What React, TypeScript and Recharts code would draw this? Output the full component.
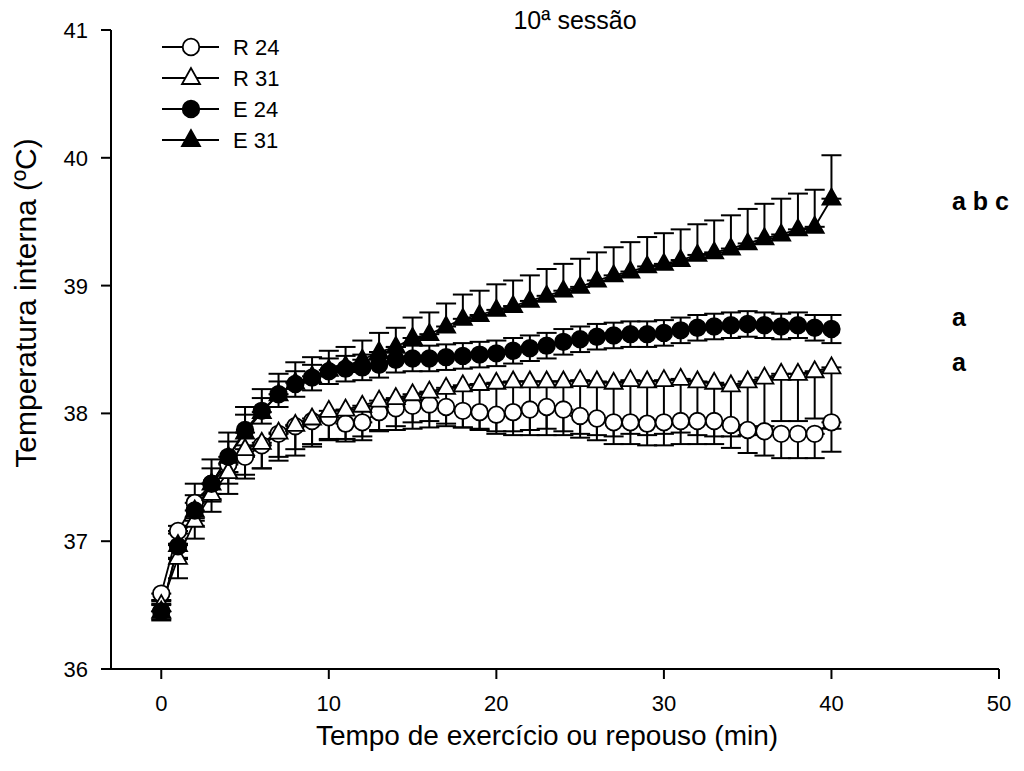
import React from "react";
import { LineChart, Line, XAxis, YAxis, ErrorBar } from "recharts";

const FONT = '"Liberation Sans", Arial, sans-serif';

// tempo (min)
const minutes = [
  0, 1, 2, 3, 4, 5, 6, 7, 8, 9, 10, 11, 12, 13, 14, 15, 16, 17, 18, 19, 20,
  21, 22, 23, 24, 25, 26, 27, 28, 29, 30, 31, 32, 33, 34, 35, 36, 37, 38, 39, 40,
];

const r24 = [
  36.59, 37.08, 37.3, 37.45, 37.6, 37.66, 37.75, 37.84, 37.9, 37.94, 37.97,
  37.92, 37.93, 38.01, 38.04, 38.06, 38.07, 38.05, 38.02, 38.01, 37.99,
  38.01, 38.03, 38.05, 38.03, 37.98, 37.96, 37.93, 37.93, 37.92, 37.93,
  37.94, 37.94, 37.94, 37.91, 37.87, 37.86, 37.84, 37.84, 37.84, 37.93,
];
const r24Err = [
  0.05, 0.1, 0.12, 0.14, 0.15, 0.17, 0.18, 0.18, 0.18, 0.18, 0.18, 0.14, 0.14,
  0.14, 0.14, 0.13, 0.13, 0.13, 0.13, 0.14, 0.15, 0.15, 0.16, 0.17, 0.17, 0.17,
  0.17, 0.17, 0.17, 0.17, 0.18, 0.18, 0.18, 0.18, 0.18, 0.18, 0.19, 0.19, 0.19,
  0.19, 0.23,
];

const r31 = [
  36.5, 36.87, 37.16, 37.37, 37.54, 37.72, 37.77, 37.85, 37.91, 37.96, 38.02,
  38.03, 38.06, 38.1, 38.12, 38.15, 38.17, 38.2, 38.22, 38.23, 38.24, 38.25,
  38.25, 38.25, 38.25, 38.26, 38.25, 38.24, 38.26, 38.25, 38.26, 38.27, 38.25,
  38.24, 38.22, 38.25, 38.28, 38.31, 38.31, 38.33, 38.36,
];
const r31Err = [
  0.12, 0.16, 0.14, 0.14, 0.17, 0.2, 0.2, 0.22, 0.24, 0.22, 0.22, 0.23, 0.24,
  0.24, 0.25, 0.27, 0.28, 0.3, 0.33, 0.35, 0.38, 0.42, 0.42, 0.42, 0.42, 0.42,
  0.42, 0.42, 0.42, 0.42, 0.42, 0.42, 0.42, 0.42, 0.4, 0.42, 0.38, 0.37, 0.37,
  0.37, 0.48,
];

const e24 = [
  36.45, 36.96, 37.24, 37.45, 37.66, 37.87, 38.02, 38.15, 38.23, 38.28, 38.33,
  38.35, 38.36, 38.38, 38.42, 38.43, 38.43, 38.44, 38.45, 38.46, 38.47, 38.49,
  38.51, 38.53, 38.56, 38.58, 38.6, 38.61, 38.62, 38.62, 38.63, 38.65, 38.67,
  38.68, 38.69, 38.7, 38.69, 38.68, 38.69, 38.67, 38.66,
];
const e24Err = [
  0.06, 0.1, 0.12, 0.12, 0.12, 0.12, 0.1, 0.1, 0.1, 0.1, 0.1, 0.1, 0.1, 0.1,
  0.1, 0.1, 0.1, 0.1, 0.1, 0.1, 0.1, 0.1, 0.1, 0.1, 0.1, 0.1, 0.1, 0.1, 0.1,
  0.1, 0.1, 0.1, 0.1, 0.1, 0.1, 0.1, 0.1, 0.1, 0.1, 0.1, 0.11,
];

const e31 = [
  36.45, 36.97, 37.24, 37.45, 37.66, 37.85, 38.01, 38.15, 38.24, 38.29, 38.34,
  38.37, 38.42, 38.48, 38.52, 38.59, 38.62, 38.68, 38.74, 38.77, 38.81, 38.84,
  38.88, 38.92, 38.96, 38.99, 39.04, 39.08, 39.11, 39.15, 39.17, 39.2, 39.24,
  39.26, 39.29, 39.33, 39.37, 39.4, 39.44, 39.46, 39.68,
];
const e31Err = [
  0.08, 0.15, 0.21, 0.19, 0.19, 0.2, 0.18, 0.16, 0.16, 0.15, 0.15, 0.15, 0.15,
  0.15, 0.15, 0.16, 0.17, 0.18, 0.19, 0.19, 0.2, 0.2, 0.2, 0.21, 0.21, 0.22,
  0.22, 0.22, 0.23, 0.23, 0.24, 0.24, 0.24, 0.25, 0.26, 0.27, 0.27, 0.28, 0.28,
  0.29, 0.34,
];

const xTicks = [0, 10, 20, 30, 40, 50];
const yTicks = [36, 37, 38, 39, 40, 41];

// [abaixo, acima]
const data = minutes.map((t, i) => ({
  t,
  r24: r24[i],
  r24Err: [r24Err[i], 0],
  r31: r31[i],
  r31Err: [r31Err[i], 0],
  e24: e24[i],
  e24Err: [e24Err[i], e24Err[i]],
  e31: e31[i],
  e31Err: [0, e31Err[i]],
}));

type Shape = "circle" | "triangle";

function Marker({ cx, cy, shape, filled }: { cx: number; cy: number; shape: Shape; filled: boolean }) {
  const fill = filled ? "#000" : "#fff";
  if (shape === "circle") {
    return <circle cx={cx} cy={cy} r={8.3} fill={fill} stroke="#000" strokeWidth={1.8} />;
  }
  const pts = `${cx},${cy - 10} ${cx - 9},${cy + 6} ${cx + 9},${cy + 6}`;
  return <polygon points={pts} fill={fill} stroke="#000" strokeWidth={1.8} strokeLinejoin="miter" />;
}

const dotFor = (shape: Shape, filled: boolean) => (props: any) => {
  const { cx, cy, index } = props;
  if (cx == null || cy == null) return <g key={`d-${index}`} />;
  return (
    <g key={`d-${index}`}>
      <Marker cx={cx} cy={cy} shape={shape} filled={filled} />
    </g>
  );
};

const SERIES = [
  { key: "r24", err: "r24Err", label: "R 24", shape: "circle" as Shape, filled: false },
  { key: "r31", err: "r31Err", label: "R 31", shape: "triangle" as Shape, filled: false },
  { key: "e24", err: "e24Err", label: "E 24", shape: "circle" as Shape, filled: true },
  { key: "e31", err: "e31Err", label: "E 31", shape: "triangle" as Shape, filled: true },
];

function LegendBox() {
  return (
    <svg width={160} height={130} style={{ position: "absolute", left: 150, top: 30 }}>
      {SERIES.map((s, i) => {
        const y = 17 + i * 31;
        return (
          <g key={s.key}>
            <line x1={12} x2={69} y1={y} y2={y} stroke="#000" strokeWidth={1.8} />
            <Marker cx={41} cy={y} shape={s.shape} filled={s.filled} />
            <text x={83} y={y + 8} fontFamily={FONT} fontSize={22} fill="#000">
              {s.label}
            </text>
          </g>
        );
      })}
    </svg>
  );
}

const XTick = (props: any) => (
  <text x={props.x} y={props.y} dy="0.71em" textAnchor="middle" fontSize={22} fontFamily={FONT} fill="#000">
    {props.payload.value}
  </text>
);

const YTick = (props: any) => (
  <text x={props.x} y={props.y} dy="0.36em" textAnchor="end" fontSize={22} fontFamily={FONT} fill="#000">
    {props.payload.value}
  </text>
);

export default function App() {
  return (
    <div style={{ position: "absolute", left: 0, top: 0, width: 1024, height: 771, background: "#fff", fontFamily: FONT }}>
      <LineChart width={1024} height={771} data={data} margin={{ top: 30, right: 25, left: 51, bottom: 42 }}>
        <XAxis
          dataKey="t"
          type="number"
          domain={[-3, 50]}
          ticks={xTicks}
          allowDataOverflow
          height={60}
          tickSize={10}
          tickMargin={16}
          tick={XTick}
          axisLine={{ stroke: "#000", strokeWidth: 2 }}
          tickLine={{ stroke: "#000", strokeWidth: 2 }}
        />
        <YAxis
          type="number"
          domain={[36, 41]}
          ticks={yTicks}
          allowDataOverflow
          width={60}
          tickSize={10}
          tickMargin={13}
          tick={YTick}
          axisLine={{ stroke: "#000", strokeWidth: 2 }}
          tickLine={{ stroke: "#000", strokeWidth: 2 }}
        />
        {SERIES.map((s) => (
          <Line
            key={s.key}
            type="linear"
            dataKey={s.key}
            stroke="#000"
            strokeWidth={1.8}
            dot={dotFor(s.shape, s.filled)}
            activeDot={false}
            isAnimationActive={false}
          >
            <ErrorBar dataKey={s.err} width={10} stroke="#000" strokeWidth={2} direction="y" />
          </Line>
        ))}
      </LineChart>

      <LegendBox />

      <div style={{ position: "absolute", left: 0, width: 1150, top: 6, textAlign: "center", fontSize: 25 }}>
        10ª sessão
      </div>

      <div
        style={{
          position: "absolute",
          left: 26,
          top: 303,
          transform: "translate(-50%, -50%) rotate(-90deg)",
          whiteSpace: "nowrap",
          fontSize: 30,
        }}
      >
        Temperatura interna (ºC)
      </div>

      <div style={{ position: "absolute", left: 0, width: 1094, top: 720, textAlign: "center", fontSize: 28, whiteSpace: "nowrap" }}>
        Tempo de exercício ou repouso (min)
      </div>

      <div style={{ position: "absolute", left: 952, top: 187, fontSize: 25, fontWeight: "bold" }}>a b c</div>
      <div style={{ position: "absolute", left: 952, top: 303, fontSize: 25, fontWeight: "bold" }}>a</div>
      <div style={{ position: "absolute", left: 952, top: 348, fontSize: 25, fontWeight: "bold" }}>a</div>
    </div>
  );
}
